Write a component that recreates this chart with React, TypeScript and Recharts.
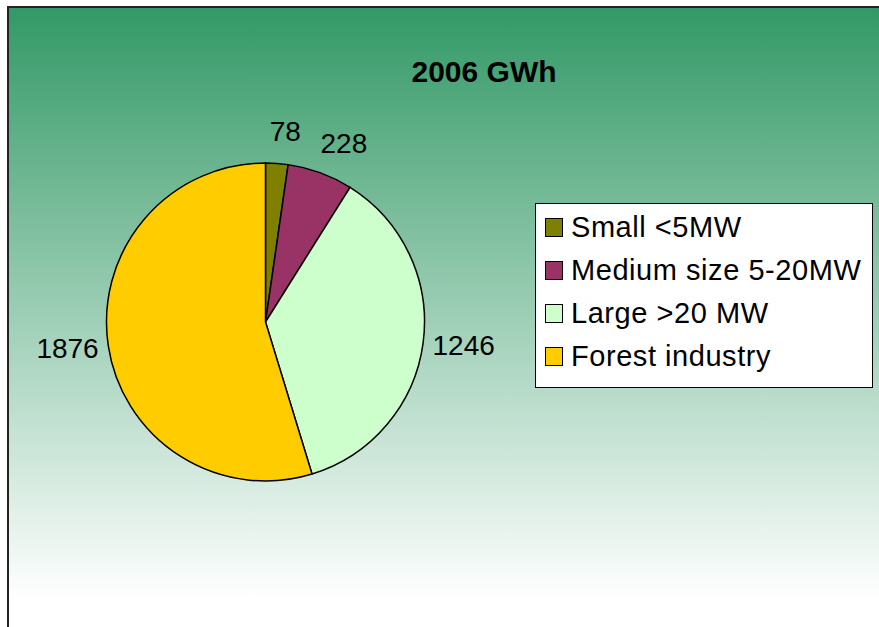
import { PieChart, Pie, Cell, Legend } from "recharts";

const categories = ["Small <5MW", "Medium size 5-20MW", "Large >20 MW", "Forest industry"];
const values = [78, 228, 1246, 1876];
const colors = ["#808000", "#993366", "#CCFFCC", "#FFCC00"];

const data = categories.map((name, i) => ({ name, value: values[i] }));

const FONT = "'Liberation Sans', Arial, sans-serif";
const RAD = Math.PI / 180;

const renderLabel = (props: any) => {
  const { cx, cy, midAngle, outerRadius, value } = props;
  const c = Math.cos(midAngle * RAD);
  const s = Math.sin(midAngle * RAD);
  const text = String(value);
  const w = text.length * 0.556 * 28;
  const h = 24;
  const d = 8 + 12 * Math.abs(s);
  const px = cx + (outerRadius + d) * c;
  const py = cy - (outerRadius + d) * s;
  const x = px + (w / 2) * Math.sign(c) * Math.pow(Math.abs(c), 0.3);
  const y = py - (h / 2) * s;
  return (
    <text
      x={x}
      y={y}
      textAnchor="middle"
      dominantBaseline="central"
      fill="#000"
      style={{ fontFamily: FONT, fontSize: 28 }}
    >
      {text}
    </text>
  );
};

const LegendBox = () => (
  <div
    style={{
      width: 336,
      height: 181,
      background: "#fff",
      border: "1px solid #000",
      boxSizing: "content-box",
      fontFamily: FONT,
      fontSize: 29,
      letterSpacing: 0.55,
      color: "#000",
      paddingTop: 2,
    }}
  >
    {categories.map((name, i) => (
      <div key={name} style={{ display: "flex", alignItems: "center", height: 43, paddingLeft: 9 }}>
        <span
          style={{
            display: "inline-block",
            width: 16,
            height: 17,
            background: colors[i],
            border: "1.5px solid #000",
            marginRight: 8,
          }}
        />
        <span style={{ lineHeight: "43px" }}>{name}</span>
      </div>
    ))}
  </div>
);

export default function App() {
  return (
    <div style={{ position: "absolute", left: 0, top: 0, width: 879, height: 627, background: "#fff", overflow: "hidden" }}>
      <div
        style={{
          position: "absolute",
          left: 7,
          top: 6,
          width: 900,
          height: 640,
          borderTop: "2px solid #222",
          borderLeft: "2px solid #222",
          background: "linear-gradient(to bottom, #339966 0px, #ffffff 591px, #ffffff 640px)",
        }}
      />
      <div
        style={{
          position: "absolute",
          left: 0,
          top: 55,
          width: 968,
          textAlign: "center",
          fontFamily: FONT,
          fontWeight: "bold",
          fontSize: 30,
          lineHeight: "34px",
          color: "#000",
        }}
      >
        2006 GWh
      </div>
      <div style={{ position: "absolute", left: 0, top: 0 }}>
        <PieChart width={879} height={627}>
          <Pie
            data={data}
            dataKey="value"
            nameKey="name"
            cx={260.5}
            cy={317}
            outerRadius={159}
            startAngle={90}
            endAngle={-270}
            stroke="#000"
            strokeWidth={1.5}
            label={renderLabel}
            labelLine={false}
            isAnimationActive={false}
          >
            {data.map((_, i) => (
              <Cell key={i} fill={colors[i]} />
            ))}
          </Pie>
          <Legend
            content={() => <LegendBox />}
            wrapperStyle={{ position: "absolute", left: 535, top: 203, width: 338, bottom: "auto", right: "auto" }}
          />
        </PieChart>
      </div>
    </div>
  );
}
